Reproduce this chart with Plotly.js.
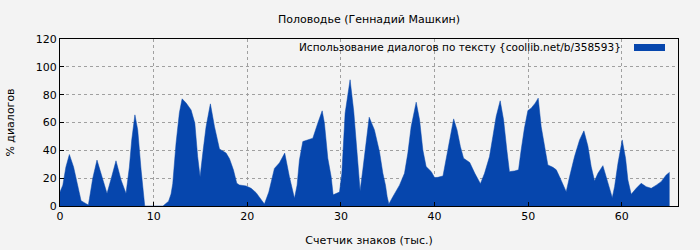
<!DOCTYPE html>
<html>
<head>
<meta charset="utf-8">
<script src="https://cdn.plot.ly/plotly-3.0.1.min.js"></script>
<style>
  html, body { margin: 0; padding: 0; background: #f3f3f3; }
  #chart { width: 700px; height: 250px; }
</style>
</head>
<body>
<div id="chart"></div>
<script>
// Values (x in thousands of characters, y in % dialogs)
const chartTitle = "Половодье (Геннадий Машкин)";
const xTitle = "Счетчик знаков (тыс.)";
const yTitle = "% диалогов";
const seriesName = "Использование диалогов по тексту {coollib.net/b/358593}";

const xValues = [
  0, 0.3, 0.63, 1.0, 1.45, 1.89, 2.1, 2.25, 2.55, 2.9, 3.03, 3.15, 3.5, 3.95, 4.49, 5.02, 5.52, 5.98, 6.52, 7.05, 7.41, 7.66, 8.0, 8.3, 8.66, 8.95, 9.05,
  11.0, 11.3, 11.6, 11.86, 12.04, 12.39, 12.75, 13.04, 13.47, 14.0, 14.4, 14.7, 14.96, 15.25, 15.6, 16.06, 16.5, 17.03, 17.74, 18.1, 18.52, 18.88, 19.16, 19.87,
  20.41, 20.94, 21.48, 21.83, 22.3, 22.65, 22.9, 23.44, 24.0, 24.5, 24.86, 25.04, 25.32, 25.57, 25.93, 26.47, 27.0, 27.53, 28.0, 28.24, 28.6, 28.96, 29.17, 29.85,
  30.1, 30.45, 30.98, 31.37, 31.73, 32.05, 32.34, 32.7, 33.02, 33.58, 33.76, 34.12, 34.48, 34.76, 34.94, 35.12, 35.55, 36.26, 36.79, 37.15, 37.5, 38.04, 38.4, 38.75, 39.1, 39.65,
  40.0, 40.36, 40.9, 41.33, 41.69, 42.04, 42.4, 42.76, 43.1, 43.76, 44.3, 44.9, 45.34, 45.87, 46.23, 46.58, 47.01, 47.37, 47.72, 48.0, 48.55, 48.97, 49.25, 49.6, 49.97,
  50.32, 50.75, 51.07, 51.39, 51.75, 52.1, 52.64, 53.0, 53.35, 53.7, 54.06, 54.42, 54.95, 55.49, 55.95, 56.38, 56.73, 57.09, 57.45, 57.98, 58.34, 58.7, 58.98, 59.23, 59.59,
  60.04, 60.4, 60.65, 61.0, 61.54, 62.07, 62.6, 63.14, 63.68, 64.2, 64.74, 65.1
];
const yValues = [
  10, 15, 28, 37, 28, 15, 6.7, 3.8, 2.6, 1.2, 0.7, 5.5, 20, 33, 21, 9, 21, 32.5, 18.7, 9, 28, 47.5, 65.5, 54.7, 26, 3, 0,
  0, 2, 3.5, 8.6, 16, 45, 67, 77, 74, 69, 59.5, 35.5, 21, 38, 57, 73.4, 57, 41, 38, 34, 26, 16.3, 15.1, 14.4,
  12.7, 9.6, 4.3, 1.4, 10, 19, 27, 31, 38, 21, 10.3, 5.5, 15, 33, 46.3, 47.5, 48.7, 59.5, 68.4, 59.5, 34.3, 21, 8, 10,
  23.5, 66.7, 90.7, 68, 38, 11, 26, 47.5, 63.8, 54.7, 50, 39, 23.5, 15, 6.7, 1.4, 6.7, 15, 23.5, 38, 57, 74.6, 62, 40.3, 28.3, 24.7,
  20.4, 20.6, 21.6, 38, 52.3, 62.6, 54.7, 42.7, 34.3, 31.2, 23.5, 16, 23.5, 35.5, 50, 64.3, 75.6, 62, 40.3, 24.7, 25.2, 26, 40.3, 56, 68.6,
  70.3, 73.9, 77.5, 57, 42.7, 29.5, 27.8, 26, 21, 15, 10.3, 21, 35.5, 47.5, 54, 43, 28.3, 18, 23.5, 29, 21, 11.5, 6, 14, 30.7,
  47.5, 34.3, 18.7, 8.4, 12.7, 16.3, 13.9, 12.7, 15, 17.5, 22.3, 24.2
];
const xTickValues = [0, 10, 20, 30, 40, 50, 60];
const yTickValues = [0, 20, 40, 60, 80, 100, 120];

const fillColor = "#0646ad";
const font = "DejaVu Sans, sans-serif";

const trace = {
  type: "scatter",
  mode: "lines",
  x: xValues,
  y: yValues,
  name: seriesName,
  fill: "tozeroy",
  fillcolor: fillColor,
  line: { color: fillColor, width: 0.5 },
  showlegend: false,
  hoverinfo: "x+y"
};

const layout = {
  width: 700,
  height: 250,
  margin: { l: 60, r: 22, t: 39, b: 44 },
  paper_bgcolor: "#f3f3f3",
  plot_bgcolor: "#f3f3f3",
  font: { family: font, size: 11, color: "#000" },
  title: {
    text: chartTitle,
    x: 0.5, xref: "paper", xanchor: "center",
    y: 19, yref: "container", yanchor: "middle",
    font: { family: font, size: 11, color: "#000" }
  },
  xaxis: {
    range: [0, 66],
    tickvals: xTickValues,
    ticks: "inside", ticklen: 4, tickcolor: "#000",
    showgrid: true, gridcolor: "#a0a0a0", griddash: "dot", gridwidth: 1,
    showline: true, linecolor: "#000", linewidth: 1, mirror: true,
    zeroline: false,
    tickfont: { family: font, size: 11, color: "#000" },
    title: { text: xTitle, standoff: 14, font: { family: font, size: 11, color: "#000" } }
  },
  yaxis: {
    range: [0, 120],
    tickvals: yTickValues,
    ticks: "inside", ticklen: 4, tickcolor: "#000",
    showgrid: true, gridcolor: "#a0a0a0", griddash: "dot", gridwidth: 1,
    showline: true, linecolor: "#000", linewidth: 1, mirror: true,
    zeroline: false,
    tickfont: { family: font, size: 11, color: "#000" },
    title: { text: yTitle, standoff: 18, font: { family: font, size: 11, color: "#000" } }
  },
  annotations: [{
    text: seriesName,
    xref: "paper", yref: "paper",
    x: (623 - 60) / 618, y: (206 - 47) / 167,
    xanchor: "right", yanchor: "middle",
    showarrow: false,
    font: { family: font, size: 10.5, color: "#000" }
  }],
  shapes: [{
    type: "rect",
    xref: "paper", yref: "paper",
    x0: (634 - 60) / 618, x1: (665 - 60) / 618,
    y0: (206 - 51) / 167, y1: (206 - 44) / 167,
    fillcolor: fillColor,
    line: { width: 0 }
  }]
};

Plotly.newPlot("chart", [trace], layout, { displayModeBar: false, staticPlot: true });
</script>
</body>
</html>
